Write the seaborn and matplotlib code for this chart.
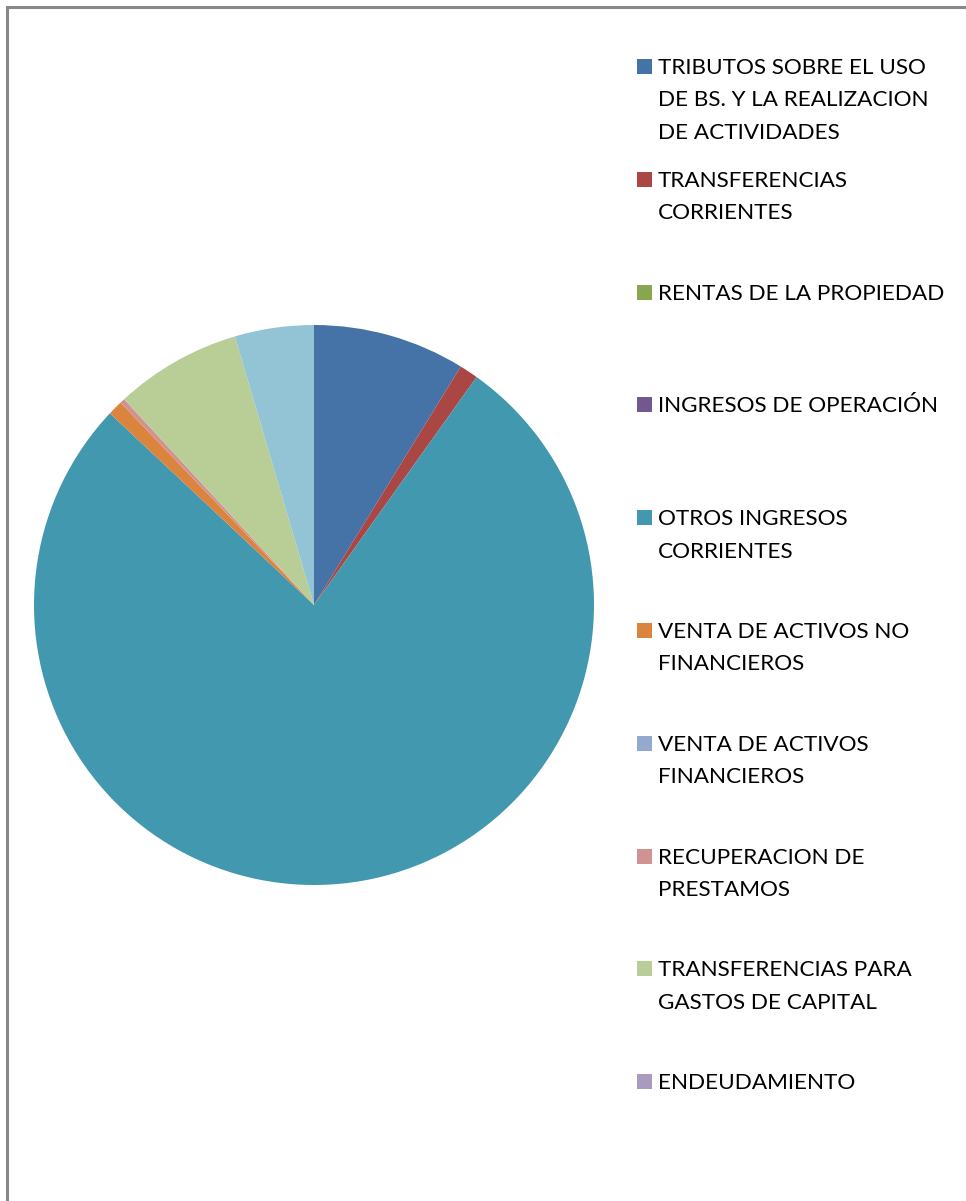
import matplotlib
matplotlib.use("Agg")
import matplotlib.pyplot as plt
import matplotlib.patches as mpatches
import seaborn as sns

sns.set_theme(style="white")
plt.rcParams['font.family'] = ['Lato', 'DejaVu Sans']

# ---- data ----
categories = [
    "TRIBUTOS SOBRE EL USO\nDE BS. Y LA REALIZACION\nDE ACTIVIDADES",
    "TRANSFERENCIAS\nCORRIENTES",
    "RENTAS DE LA PROPIEDAD",
    "INGRESOS DE OPERACIÓN",
    "OTROS INGRESOS\nCORRIENTES",
    "VENTA DE ACTIVOS NO\nFINANCIEROS",
    "VENTA DE ACTIVOS\nFINANCIEROS",
    "RECUPERACION DE\nPRESTAMOS",
    "TRANSFERENCIAS PARA\nGASTOS DE CAPITAL",
    "ENDEUDAMIENTO",
]
values = [8.78, 1.08, 0.0, 0.0, 77.14, 0.86, 0.0, 0.28, 7.30, 0.0]
# an extra slice drawn in the pie whose legend entry is cut off in the original
hidden_category = ["OTROS"]
hidden_values = [4.56]

colors = ["#4572A7", "#AA4643", "#89A54E", "#71588F", "#4198AF",
          "#DB843D", "#93A9CF", "#D19392", "#B9CD96", "#A99BBD"]
hidden_colors = ["#93C4D5"]

W, H = 966, 1201
fig = plt.figure(figsize=(W / 100, H / 100), dpi=100)
fig.patch.set_facecolor("white")

# pie axes: center (314, 605), radius 280 px
cx, cy, r = 314, 605, 280
ax = fig.add_axes([(cx - r) / W, (H - cy - r) / H, 2 * r / W, 2 * r / H])
ax.pie(values + hidden_values, colors=colors + hidden_colors,
       startangle=90, counterclock=False, radius=1,
       wedgeprops=dict(linewidth=0, edgecolor="none"))
ax.set_xlim(-1, 1)
ax.set_ylim(-1, 1)
ax.set_aspect("auto")
ax.axis("off")

# outer frame (right/bottom edges fall outside the image)
frame = mpatches.Rectangle((6.5 / W, -0.1), 1.2, 1 - 6.5 / H + 0.1,
                           transform=fig.transFigure, fill=False,
                           edgecolor="#888888", linewidth=2.2)
fig.patches.append(frame)

# legend (handles aligned with first line of each label)
x_box, x_txt = 637, 658
base0, step, line_h, box = 74, 112.8, 32.5, 15
for i, (lab, col) in enumerate(zip(categories, colors)):
    b = base0 + i * step
    fig.patches.append(mpatches.Rectangle((x_box / W, (H - b) / H), box / W, box / H,
                                          transform=fig.transFigure,
                                          facecolor=col, edgecolor="none"))
    for j, line in enumerate(lab.split("\n")):
        fig.text(x_txt / W, (H - (b + j * line_h)) / H, line,
                 fontsize=16.2, color="#000000", va="baseline", ha="left")

fig.savefig("out.png", dpi=100, facecolor="white")
